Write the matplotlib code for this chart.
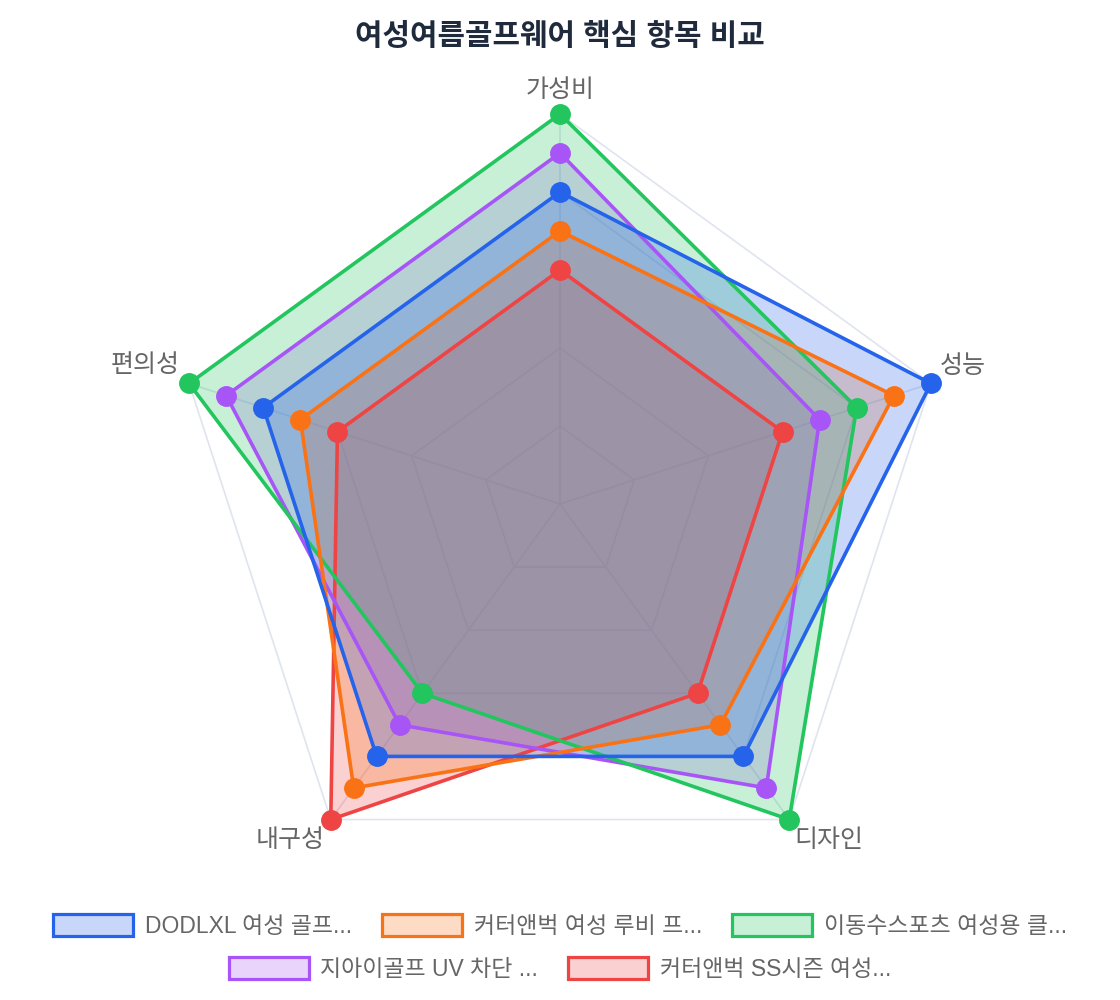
import numpy as np
import matplotlib
matplotlib.use("Agg")
import matplotlib.pyplot as plt
from matplotlib.patches import Patch
from matplotlib.colors import to_rgba

plt.rcParams['font.family'] = ['Liberation Sans', 'Noto Sans CJK KR', 'DejaVu Sans']

title = "여성여름골프웨어 핵심 항목 비교"
categories = ["가성비", "성능", "디자인", "내구성", "편의성"]
series_names = [
    "DODLXL 여성 골프...",
    "커터앤벅 여성 루비 프...",
    "이동수스포츠 여성용 클...",
    "지아이골프 UV 차단 ...",
    "커터앤벅 SS시즌 여성...",
]
blue_vals   = [4.0, 5.0, 4.0, 4.0, 4.0]
orange_vals = [3.5, 4.5, 3.5, 4.5, 3.5]
green_vals  = [5.0, 4.0, 5.0, 3.0, 5.0]
purple_vals = [4.5, 3.5, 4.5, 3.5, 4.5]
red_vals    = [3.0, 3.0, 3.0, 5.0, 3.0]
series_values = [blue_vals, orange_vals, green_vals, purple_vals, red_vals]
colors = ["#2563eb", "#f97316", "#22c55e", "#a855f7", "#ef4444"]
ring_levels = [1, 2, 3, 4, 5]
r_max = 5

fig = plt.figure(figsize=(11.2, 10), dpi=100)
ax = fig.add_axes([0.1518, 0.106, 0.6964, 0.78], projection='polar')
ax.set_theta_offset(np.pi / 2)
ax.set_theta_direction(-1)
ax.set_ylim(0, r_max)
ax.grid(False)
ax.spines['polar'].set_visible(False)
ax.set_xticks([])
ax.set_yticks([])
ax.patch.set_alpha(0)

n = len(categories)
angles = np.arange(n) * 2 * np.pi / n
closed = np.concatenate([angles, angles[:1]])

grid_color = "#dfe4ef"
for lv in ring_levels:
    ax.plot(closed, [lv] * (n + 1), color=grid_color, lw=1.2, zorder=1)
for a in angles:
    ax.plot([a, a], [0, r_max], color=grid_color, lw=1.2, zorder=1)

k = len(series_values)
for i, (vals, c) in enumerate(zip(series_values, colors)):
    v = list(vals) + [vals[0]]
    z = (k - i) * 3
    ax.fill(closed, v, color=c, alpha=0.25, lw=0, zorder=5 + (k - i) * 0.1)
    ax.plot(closed, v, color=c, lw=2.6, zorder=20 + z)
    ax.plot(angles, vals, 'o', color=c, markersize=14, zorder=21 + z, clip_on=False)

# point labels (offsets in px -> points)
offsets_px = [(0, 24), (32, 17), (40, -20), (-41, -20), (-44, 18)]
for a, lab, (dx, dy) in zip(angles, categories, offsets_px):
    ax.annotate(lab, xy=(a, r_max), xytext=(dx * 0.72, dy * 0.72),
                textcoords='offset points', ha='center', va='center',
                fontsize=18, color='#666666', annotation_clip=False)

fig.text(0.5, 0.963, title, ha='center', va='center', fontsize=21.5,
         fontweight='bold', color='#1f2a3c')

def make_handles(idx):
    return [Patch(facecolor=to_rgba(colors[i], 0.25), edgecolor=colors[i],
                  linewidth=2.3) for i in idx]

leg_kw = dict(frameon=False, fontsize=16.5, labelcolor='#666666',
              handlelength=3.49, handleheight=1.05, handletextpad=0.52,
              columnspacing=1.3, borderaxespad=0, borderpad=0, loc='center')
row1 = [0, 1, 2]
row2 = [3, 4]
fig.legend(make_handles(row1), [series_names[i] for i in row1], ncol=3,
           bbox_to_anchor=(0.5, 1 - 926 / 1000), **leg_kw)
fig.legend(make_handles(row2), [series_names[i] for i in row2], ncol=2,
           bbox_to_anchor=(0.5, 1 - 969 / 1000), **leg_kw)

fig.savefig("out.png", dpi=100, facecolor='white')
